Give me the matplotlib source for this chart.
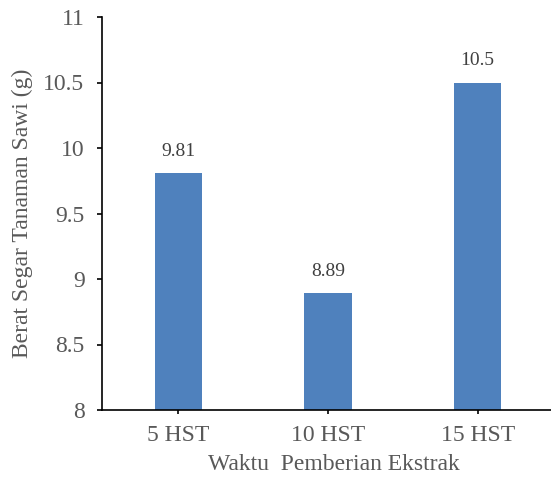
import matplotlib.pyplot as plt

# -------------------------------
# Data
# -------------------------------
categories = ["5 HST", "10 HST", "15 HST"]
values = [9.81, 8.89, 10.5]
value_labels = ["9.81", "8.89", "10.5"]
y_ticks = [8, 8.5, 9, 9.5, 10, 10.5, 11]
y_tick_labels = ["8", "8.5", "9", "9.5", "10", "10.5", "11"]

plt.rcParams['font.family'] = ['Liberation Serif', 'DejaVu Serif']

fig = plt.figure(figsize=(5.51, 4.78), dpi=100)
ax = fig.add_axes([102 / 551, 1 - 410 / 478, 449 / 551, 393 / 478])

x = list(range(len(categories)))
ax.bar(x, values, width=0.315, color='#4F81BD', bottom=0)

for xi, v, lab in zip(x, values, value_labels):
    ax.text(xi, v + 0.1, lab, ha='center', va='bottom', fontsize=14, color='#404040')

ax.set_xlim(-0.51, 2.49)
ax.set_ylim(8, 11)
ax.set_yticks(y_ticks)
ax.set_yticklabels(y_tick_labels)
ax.set_xticks(x)
ax.set_xticklabels(categories)

ax.tick_params(axis='y', direction='out', length=3.6, width=1.2, colors='black',
               labelcolor='#595959', labelsize=17, pad=9)
ax.tick_params(axis='x', direction='out', length=3, width=1.2, colors='black',
               labelcolor='#595959', labelsize=17, pad=8)

for side in ['top', 'right']:
    ax.spines[side].set_visible(False)
ax.spines['left'].set_linewidth(1.2)
ax.spines['bottom'].set_linewidth(1.2)

ax.set_ylabel("Berat Segar Tanaman Sawi (g)", fontsize=17, color='#595959')
ax.yaxis.set_label_coords(-0.153, 0.5)
ax.set_xlabel("Waktu  Pemberian Ekstrak", fontsize=17, color='#595959')
ax.xaxis.set_label_coords(0.516, -0.112)

fig.savefig("out.png", dpi=100)
